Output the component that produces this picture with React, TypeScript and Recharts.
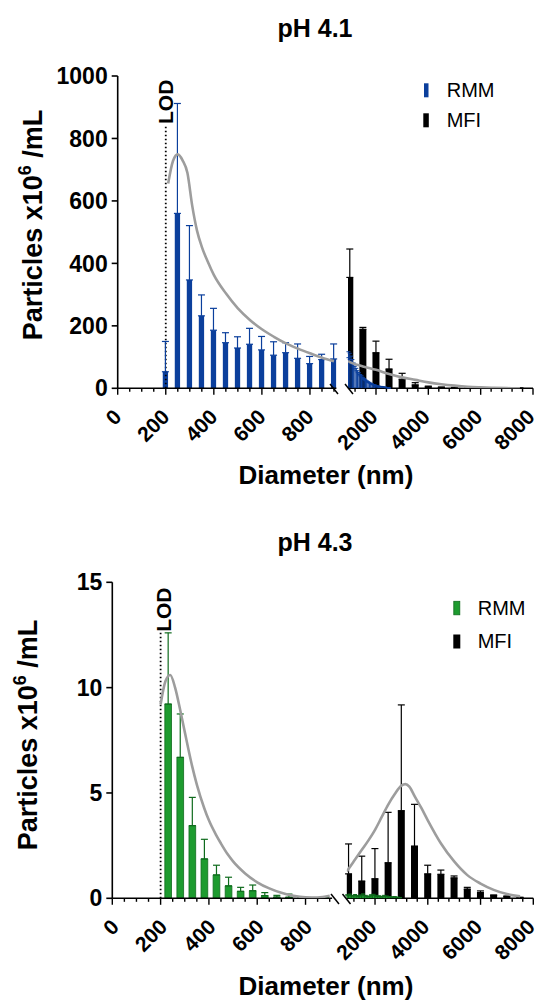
import React from 'react';
import { ComposedChart, Bar, Line, XAxis, YAxis, ErrorBar, ReferenceLine } from 'recharts';

const FONT = '"Liberation Sans", Arial, Helvetica, sans-serif';
const BLUE = '#0b3f9c';
const GREEN = '#1d9b2f';
const GREEN_DARK = '#0f6b1d';
const GRAY = '#9d9d9d';

// ---------- pH 4.1 ----------
const rmm41X = [200, 250, 300, 350, 400, 450, 500, 550, 600, 650, 700, 750, 800, 850, 900];
const rmm41 = [53, 560, 347, 232, 186, 146, 129, 141, 123, 106, 114, 96, 79, 92, 94];
const rmm41Sd = [97, 352, 174, 67, 70, 32, 36, 51, 43, 43, 32, 46, 23, 17, 48];

const rmm41TailX = [950, 1000, 1050, 1100, 1150, 1200, 1250, 1300, 1350, 1400, 1450, 1500, 1550, 1600, 1650, 1700,
  1750, 1800, 1850, 1900, 1950, 2000, 2050, 2100, 2150, 2200, 2250, 2300, 2350, 2400, 2450, 2500];
const rmm41Tail = [98, 92, 85, 77, 69, 62, 56, 50, 45, 40, 36, 32, 28, 25, 22, 19,
  17, 15, 13, 11, 10, 8, 7, 6, 5, 5, 4, 3, 3, 2, 2, 1];
const rmm41TailSd = [19, 20, 18, 15, 12, 9, 8, 6, 5, 4, 4, 3, 3, 2, 2, 2,
  2, 1, 1, 1, 1, 1, 1, 1, 1, 1, 1, 1, 1, 0, 0, 0];

const mfiX = [1000, 1500, 2000, 2500, 3000, 3500, 4000, 4500, 5000, 5500, 6000, 6500, 7000, 7500];
const mfi41 = [355, 189, 114, 62, 29, 11, 5, 3, 2, 1.5, 1, 1, 0.5, 0.5];
const mfi41Sd = [91, 6, 37, 31, 19, 7, 2, 1, 1, 0.5, 0.5, 0.5, 0.2, 0.2];

const fit41LeftX = [210, 230, 250, 270, 290, 310, 330, 350, 375, 400, 450, 500, 550, 600, 650, 700, 750, 800, 850, 900];
const fit41Left = [656, 728, 749, 730, 690, 585, 505, 453, 405, 363, 304, 256, 219, 189, 165, 144, 127, 112, 98, 87];
const fit41RightX = [930, 1000, 1500, 2000, 2500, 3000, 3500, 4000, 4500, 5000, 5500, 6000, 6500, 7000, 7500];
const fit41Right = [87, 84, 70, 59, 46, 35, 27, 19, 13, 8.5, 5, 3, 1.5, 0.5, 0];

// ---------- pH 4.3 ----------
const rmm43X = [230, 280, 330, 380, 430, 480, 530, 580, 630, 680, 730, 780, 830, 880];
const rmm43 = [9.22, 6.69, 3.45, 1.87, 1.11, 0.59, 0.33, 0.36, 0.13, 0.06, 0.05, 0.02, 0.01, 0.01];
const rmm43Sd = [3.38, 2.06, 1.34, 0.93, 0.46, 0.41, 0.19, 0.27, 0.14, 0.08, 0.15, 0.03, 0.02, 0.02];

const rmm43TailX = [950, 1050, 1150, 1250, 1350, 1450, 1550, 1650, 1750, 1850, 1950, 2050, 2150, 2250, 2350, 2450,
  2550, 2650, 2750, 2850, 2950];
const rmm43Tail = [0.12, 0.14, 0.1, 0.13, 0.09, 0.11, 0.15, 0.1, 0.08, 0.12, 0.14, 0.1, 0.09, 0.07, 0.1, 0.08,
  0.06, 0.05, 0.06, 0.04, 0.03];
const rmm43TailSd = [0.05, 0.06, 0.04, 0.05, 0.04, 0.05, 0.06, 0.04, 0.03, 0.05, 0.05, 0.04, 0.03, 0.03, 0.04, 0.03,
  0.02, 0.02, 0.02, 0.02, 0.01];

const mfi43 = [1.16, 0.82, 0.93, 1.69, 4.16, 2.48, 1.16, 1.14, 0.97, 0.44, 0.27, 0.13, 0.08, 0.03];
const mfi43Sd = [1.42, 1.18, 1.43, 2.39, 5.02, 1.98, 0.41, 0.2, 0.09, 0.08, 0.08, 0.03, 0.03, 0.02];

const fit43LeftX = [200, 220, 240, 260, 280, 300, 330, 350, 380, 400, 430, 450, 480, 500, 550, 600, 650, 700, 750, 800, 850, 900];
const fit43Left = [9.2, 10.3, 10.6, 10.0, 9.0, 7.9, 6.3, 5.4, 4.3, 3.7, 3.0, 2.6, 2.05, 1.75, 1.18, 0.76, 0.47, 0.26, 0.12, 0.05, 0.04, 0.12];
const fit43RightX = [930, 1000, 1250, 1500, 1750, 2000, 2250, 2500, 2750, 3000, 3150, 3300, 3500, 3750, 4000, 4500,
  5000, 5500, 6000, 6500, 7000, 7500];
const fit43Right = [1.27, 1.4, 1.85, 2.3, 2.75, 3.25, 3.85, 4.45, 4.95, 5.35, 5.42, 5.3, 4.85, 4.3, 3.7, 2.6,
  1.75, 1.1, 0.7, 0.4, 0.2, 0.1];

// ---------- axes ----------
const leftTicks = [0, 50, 100, 150, 200, 250, 300, 350, 400, 450, 500, 550, 600, 650, 700, 750, 800, 850, 900];
const rightTicks = [1200, 1600, 2000, 2400, 2800, 3200, 3600, 4000, 4400, 4800, 5200, 5600, 6000, 6400, 6800, 7200, 7600, 8000];
const yTicks41 = [0, 200, 400, 600, 800, 1000];
const yTicks43 = [0, 5, 10, 15];
const leftDomain: [number, number] = [0, 910];
const rightDomain: [number, number] = [930, 8000];

type Row = { x: number; y: number; e: number[] | null };
const toRows = (xs: number[], ys: number[], sd?: number[]): Row[] =>
  xs.map((x, i) => ({ x, y: ys[i], e: sd ? [0, sd[i]] : null }));

type Frame = { cl: number; ct: number; cw: number; ch: number; pl: number; pt: number; pr: number; pb: number };
const XH = 60;

const xTick = (majorEvery: number, dx: number) => (p: any) => {
  const v = Number(p?.payload?.value);
  const major = v % majorEvery === 0;
  const x = p.x;
  const y = p.y;
  const tx = x + dx;
  const ty = y + 30;
  return (
    <g>
      <line x1={x} x2={x} y1={y} y2={y + (major ? 6.5 : 3.5)} stroke="#000" strokeWidth={1.4} />
      {major ? (
        <text x={tx} y={ty} transform={`rotate(-45 ${tx} ${ty})`} textAnchor="end" fontFamily={FONT}
          fontSize={21} fontWeight={700} fill="#000">{v}</text>
      ) : null}
    </g>
  );
};

const Layer = (props: {
  f: Frame; data: Row[]; showX?: boolean; showY?: boolean; xDomain: [number, number]; yDomain: [number, number];
  xTicks?: number[]; yTicks?: number[]; majorEvery?: number; labelDx?: number; children?: React.ReactNode;
}) => {
  const { f, data, showX, showY, xDomain, yDomain, xTicks, yTicks, majorEvery = 200, labelDx = 5, children } = props;
  const m = {
    top: f.pt - f.ct,
    right: f.cl + f.cw - f.pr,
    left: showY ? 0 : f.pl - f.cl,
    bottom: f.ct + f.ch - f.pb - (showX ? XH : 0),
  };
  return (
    <div style={{ position: 'absolute', left: f.cl, top: f.ct, width: f.cw, height: f.ch }}>
      <ComposedChart width={f.cw} height={f.ch} data={data} margin={m}>
        <XAxis type="number" dataKey="x" domain={xDomain} allowDataOverflow ticks={xTicks} interval={0}
          hide={!showX} height={XH} tickSize={0} tickMargin={0} tickLine={false}
          axisLine={{ stroke: '#000', strokeWidth: 1.6 }} tick={xTick(majorEvery, labelDx)} />
        <YAxis type="number" domain={yDomain} allowDataOverflow ticks={yTicks} interval={0} hide={!showY}
          width={f.pl - f.cl} tickSize={6} tickMargin={4}
          axisLine={{ stroke: '#000', strokeWidth: 1.6 }} tickLine={{ stroke: '#000', strokeWidth: 1.6 }}
          tick={{ fontFamily: FONT, fontSize: 23, fontWeight: 700, fill: '#000' }} />
        {children}
      </ComposedChart>
    </div>
  );
};

const lodLabel = (dx: number) => (p: any) => {
  const vb = p?.viewBox;
  if (!vb) return null;
  const tx = vb.x + dx;
  const ty = vb.y - 1;
  return (
    <text x={tx} y={ty} transform={`rotate(-90 ${tx} ${ty})`} textAnchor="start" fontFamily={FONT}
      fontSize={21} fontWeight={700} fill="#000">LOD</text>
  );
};

const fitLine = (
  <Line dataKey="y" type="monotone" stroke={GRAY} strokeWidth={2.6} dot={false} activeDot={false}
    isAnimationActive={false} connectNulls />
);

const Panel = (props: {
  fl: Frame; fr: Frame; yDomain: [number, number]; yTicks: number[];
  rmm: Row[]; rmmTail: Row[]; mfi: Row[]; fitL: Row[]; fitR: Row[];
  color: string; stroke: string; errColor: string; rmmSize: number; lodTop: number; lodDx: number; leftDx: number;
}) => {
  const { fl, fr, yDomain, yTicks, rmm, rmmTail, mfi, fitL, fitR, color, stroke, errColor, rmmSize, lodTop, lodDx, leftDx } = props;
  return (
    <>
      <Layer f={fl} data={rmm} showX showY xDomain={leftDomain} yDomain={yDomain} xTicks={leftTicks} yTicks={yTicks}
        majorEvery={200} labelDx={leftDx}>
        <ReferenceLine segment={[{ x: 200, y: 0 }, { x: 200, y: lodTop }]} stroke="#000" strokeWidth={1.8}
          strokeDasharray="1.5 2.5" label={lodLabel(lodDx)} />
        <Bar dataKey="y" fill={color} stroke={stroke} strokeWidth={stroke === color ? 0 : 0.8} barSize={rmmSize}
          isAnimationActive={false}>
          <ErrorBar dataKey="e" direction="y" width={3.5} stroke={errColor} strokeWidth={1.2} isAnimationActive={false} />
        </Bar>
      </Layer>
      <Layer f={fl} data={fitL} xDomain={leftDomain} yDomain={yDomain}>
        {fitLine}
      </Layer>
      <Layer f={fr} data={mfi} showX xDomain={rightDomain} yDomain={yDomain} xTicks={rightTicks} majorEvery={2000} labelDx={3}>
        <Bar dataKey="y" fill="#000" barSize={7} isAnimationActive={false}>
          <ErrorBar dataKey="e" direction="y" width={3.5} stroke="#000" strokeWidth={1.2} isAnimationActive={false} />
        </Bar>
      </Layer>
      <Layer f={fr} data={rmmTail} xDomain={rightDomain} yDomain={yDomain}>
        <Bar dataKey="y" fill={color} stroke={stroke} strokeWidth={stroke === color ? 0 : 0.6} barSize={2.4}
          isAnimationActive={false}>
          <ErrorBar dataKey="e" direction="y" width={2} stroke={errColor} strokeWidth={1} isAnimationActive={false} />
        </Bar>
      </Layer>
      <Layer f={fr} data={fitR} xDomain={rightDomain} yDomain={yDomain}>
        {fitLine}
      </Layer>
    </>
  );
};

const topL: Frame = { cl: 0, ct: 0, cw: 340, ch: 500, pl: 117.7, pt: 76, pr: 336.4, pb: 388.3 };
const topR: Frame = { cl: 290, ct: 0, cw: 249, ch: 500, pl: 348, pt: 76, pr: 533, pb: 388.3 };
const botL: Frame = { cl: 0, ct: 505, cw: 340, ch: 498, pl: 112.3, pt: 582.3, pr: 332.1, pb: 898.3 };
const botR: Frame = { cl: 290, ct: 505, cw: 249, ch: 498, pl: 346.8, pt: 582.3, pr: 533.3, pb: 898.3 };

const YLabel = ({ x, y }: { x: number; y: number }) => (
  <text x={x} y={y} transform={`rotate(-90 ${x} ${y})`} textAnchor="middle" fontFamily={FONT} fontSize={27}
    fontWeight={700} fill="#000">
    <tspan>Particles x10</tspan>
    <tspan dy={-11} fontSize={18}>6</tspan>
    <tspan dy={11} fontSize={27}> /mL</tspan>
  </text>
);

const Slash = ({ cx, cy }: { cx: number; cy: number }) => (
  <line x1={cx - 4} y1={cy - 5} x2={cx + 4} y2={cy + 5} stroke="#000" strokeWidth={1.5} />
);

export default function App() {
  return (
    <div style={{ position: 'absolute', left: 0, top: 0, width: 539, height: 1003, background: '#fff', overflow: 'hidden' }}>
      <Panel fl={topL} fr={topR} yDomain={[0, 1000]} yTicks={yTicks41}
        rmm={toRows(rmm41X, rmm41, rmm41Sd)} rmmTail={toRows(rmm41TailX, rmm41Tail, rmm41TailSd)}
        mfi={toRows(mfiX, mfi41, mfi41Sd)} fitL={toRows(fit41LeftX, fit41Left)} fitR={toRows(fit41RightX, fit41Right)}
        color={BLUE} stroke={BLUE} errColor={BLUE} rmmSize={5.3} lodTop={843} lodDx={7} leftDx={5} />
      <Panel fl={botL} fr={botR} yDomain={[0, 15]} yTicks={yTicks43}
        rmm={toRows(rmm43X, rmm43, rmm43Sd)} rmmTail={toRows(rmm43TailX, rmm43Tail, rmm43TailSd)}
        mfi={toRows(mfiX, mfi43, mfi43Sd)} fitL={toRows(fit43LeftX, fit43Left)} fitR={toRows(fit43RightX, fit43Right)}
        color={GREEN} stroke={GREEN_DARK} errColor={GREEN_DARK} rmmSize={6.7} lodTop={12.6} lodDx={10} leftDx={8} />
      <svg width={539} height={1003} style={{ position: 'absolute', left: 0, top: 0, pointerEvents: 'none' }}>
        <text x={315} y={37} textAnchor="middle" fontFamily={FONT} fontSize={25} fontWeight={700}>pH 4.1</text>
        <text x={315} y={551} textAnchor="middle" fontFamily={FONT} fontSize={25} fontWeight={700}>pH 4.3</text>
        <YLabel x={42} y={225} />
        <YLabel x={37} y={735} />
        <text x={326} y={484} textAnchor="middle" fontFamily={FONT} fontSize={26} fontWeight={700}>Diameter (nm)</text>
        <text x={326} y={995} textAnchor="middle" fontFamily={FONT} fontSize={26} fontWeight={700}>Diameter (nm)</text>
        <Slash cx={334} cy={389} />
        <Slash cx={349} cy={389} />
        <Slash cx={335} cy={899} />
        <Slash cx={346.5} cy={899} />
        <rect x={424} y={83.3} width={4.5} height={14} fill={BLUE} />
        <text x={446.7} y={97.3} fontFamily={FONT} fontSize={20} fill="#000">RMM</text>
        <rect x={423.3} y={113.3} width={5.5} height={14} fill="#000" />
        <text x={446.7} y={127.3} fontFamily={FONT} fontSize={20} fill="#000">MFI</text>
        <rect x={453.8} y={601.3} width={6} height={13.5} fill={GREEN} stroke={GREEN_DARK} strokeWidth={0.8} />
        <text x={477.7} y={615} fontFamily={FONT} fontSize={20} fill="#000">RMM</text>
        <rect x={453.3} y={634.5} width={7} height={14} fill="#000" />
        <text x={477.7} y={648.3} fontFamily={FONT} fontSize={20} fill="#000">MFI</text>
      </svg>
    </div>
  );
}
